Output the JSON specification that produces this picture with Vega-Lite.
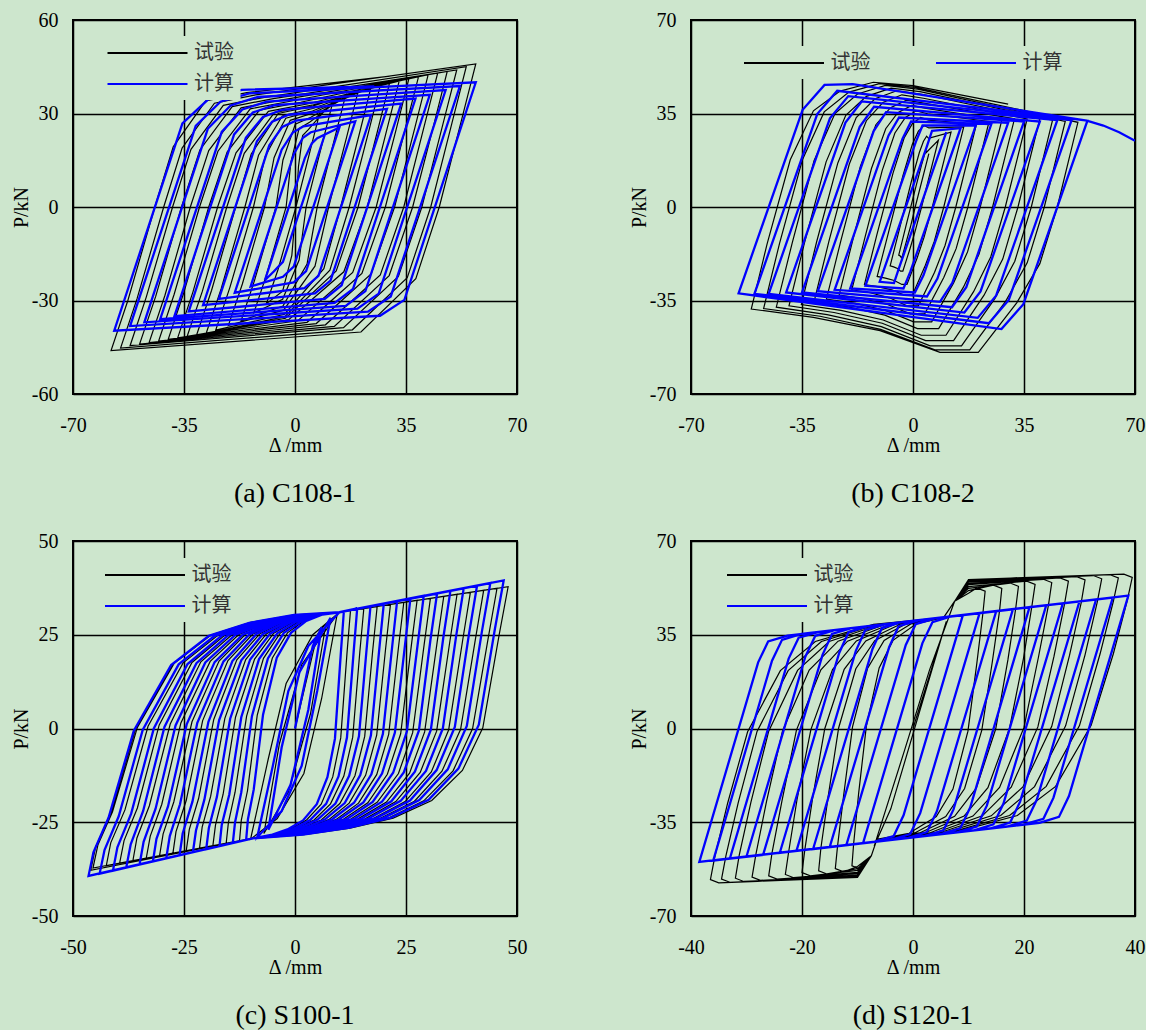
{
"$schema":"https://vega.github.io/schema/vega-lite/v6.json",
"background":"#cde6cd",
"padding":{"left":10,"top":9,"right":0,"bottom":0},
"config":{
"view":{"stroke":"black","strokeWidth":2},
"axis":{"domain":false,"ticks":false,"grid":true,"gridColor":"black","gridWidth":1.5,"gridOpacity":1,"labelFont":"Liberation Serif","labelFontSize":20,"labelColor":"black","titleFont":"Liberation Serif","titleFontSize":20,"titleFontWeight":"normal","titleColor":"black","labelFlush":false,"labelOverlap":false,"labelExpr":"'' + datum.value"},
"axisX":{"labelPadding":21,"titlePadding":0},
"axisY":{"labelPadding":15,"titlePadding":0},
"title":{"font":"Liberation Serif","fontSize":28,"fontWeight":"normal","color":"black","orient":"bottom","offset":25},
"legend":{"title":null,"symbolType":"M-4,0H4","symbolSize":400,"symbolStrokeWidth":2,"symbolOffset":29,"labelFont":"Noto Sans CJK SC","labelFontSize":20,"labelColor":"#333333","labelOffset":35.5,"rowPadding":10,"padding":6,"fillColor":"#cde6cd","orient":"none"}
},
"datasets":{
"a_t":[{"x":8,"y":31},{"x":4.9,"y":18.6},{"x":0.3,"y":0},{"x":-1,"y":-15.5},{"x":-3.9,"y":-27},{"x":-9,"y":-31},{"x":-5.4,"y":-20.2},{"x":0.3,"y":0},{"x":1.1,"y":13},{"x":2.4,"y":22.9},{"x":4.2,"y":24.8},
{"x":12,"y":34},{"x":8.6,"y":20.4},{"x":3.5,"y":0},{"x":1.3,"y":-17},{"x":-3.9,"y":-29.6},{"x":-13,"y":-34},{"x":-9.1,"y":-22.1},{"x":-2.8,"y":0},{"x":-1.3,"y":14.3},{"x":1.3,"y":25.2},{"x":4.6,"y":27.2},
{"x":16,"y":36},{"x":12.4,"y":21.6},{"x":7,"y":0},{"x":3.8,"y":-18.3},{"x":-3.8,"y":-31.8},{"x":-17,"y":-36.5},{"x":-12.8,"y":-23.7},{"x":-6,"y":0},{"x":-3.8,"y":15.1},{"x":0.1,"y":26.6},{"x":5,"y":28.8},
{"x":20,"y":37.5},{"x":16.3,"y":22.5},{"x":10.6,"y":0},{"x":6.3,"y":-19},{"x":-3.6,"y":-33.1},{"x":-21,"y":-38},{"x":-16.6,"y":-24.7},{"x":-9.6,"y":0},{"x":-6.6,"y":15.8},{"x":-1.5,"y":27.8},{"x":5.2,"y":30},
{"x":24,"y":38.5},{"x":20.2,"y":23.1},{"x":14.4,"y":0},{"x":9.1,"y":-19.8},{"x":-3.3,"y":-34.4},{"x":-25,"y":-39.5},{"x":-20.5,"y":-25.7},{"x":-13.1,"y":0},{"x":-9.4,"y":16.2},{"x":-2.9,"y":28.5},{"x":5.5,"y":30.8},
{"x":27,"y":39.5},{"x":23.1,"y":23.7},{"x":17.1,"y":0},{"x":11,"y":-20.3},{"x":-3.2,"y":-35.2},{"x":-28,"y":-40.5},{"x":-23.3,"y":-26.3},{"x":-15.8,"y":0},{"x":-11.5,"y":16.6},{"x":-4,"y":29.2},{"x":5.6,"y":31.6},
{"x":30,"y":40.5},{"x":26,"y":24.3},{"x":19.9,"y":0},{"x":13,"y":-20.5},{"x":-3,"y":-35.7},{"x":-31,"y":-41},{"x":-26.3,"y":-26.7},{"x":-18.7,"y":0},{"x":-13.8,"y":17},{"x":-5.3,"y":30},{"x":5.7,"y":32.4},
{"x":33,"y":41},{"x":28.9,"y":24.6},{"x":22.8,"y":0},{"x":15.4,"y":-20.8},{"x":-1.9,"y":-36.1},{"x":-34,"y":-41.5},{"x":-29.2,"y":-27},{"x":-21.5,"y":0},{"x":-16,"y":17.2},{"x":-6.5,"y":30.3},{"x":5.8,"y":32.8},
{"x":36,"y":41.5},{"x":31.9,"y":24.9},{"x":25.6,"y":0},{"x":18.2,"y":-21},{"x":0.9,"y":-36.5},{"x":-37,"y":-42},{"x":-32.2,"y":-27.3},{"x":-24.4,"y":0},{"x":-18.6,"y":17.4},{"x":-8.4,"y":30.7},{"x":4.6,"y":33.2},
{"x":39,"y":42},{"x":34.8,"y":25.2},{"x":28.5,"y":0},{"x":21.1,"y":-21.3},{"x":3.8,"y":-37},{"x":-40,"y":-42.5},{"x":-35.1,"y":-27.6},{"x":-27.2,"y":0},{"x":-21.4,"y":17.6},{"x":-11.2,"y":31.1},{"x":1.8,"y":33.6},
{"x":42,"y":42.5},{"x":37.8,"y":25.5},{"x":31.4,"y":0},{"x":24,"y":-21.5},{"x":6.7,"y":-37.4},{"x":-43,"y":-43},{"x":-38.1,"y":-28},{"x":-30.1,"y":0},{"x":-24.3,"y":17.9},{"x":-14.1,"y":31.5},{"x":-1.1,"y":34},
{"x":45,"y":43},{"x":40.7,"y":25.8},{"x":34.3,"y":0},{"x":26.9,"y":-21.8},{"x":9.6,"y":-37.8},{"x":-46,"y":-43.5},{"x":-41,"y":-28.3},{"x":-33,"y":0},{"x":-27.2,"y":18.1},{"x":-17,"y":31.8},{"x":-4,"y":34.4},
{"x":48,"y":43.5},{"x":43.7,"y":26.1},{"x":37.1,"y":0},{"x":29.7,"y":-22},{"x":12.4,"y":-38.3},{"x":-49,"y":-44},{"x":-43.9,"y":-28.6},{"x":-35.8,"y":0},{"x":-30,"y":18.3},{"x":-19.8,"y":32.2},{"x":-6.8,"y":34.8},
{"x":51,"y":44},{"x":46.6,"y":26.4},{"x":40,"y":0},{"x":32.6,"y":-22.3},{"x":15.3,"y":-38.7},{"x":-52,"y":-44.5},{"x":-46.9,"y":-28.9},{"x":-38.6,"y":0},{"x":-32.8,"y":18.5},{"x":-22.6,"y":32.6},{"x":-9.6,"y":35.2},
{"x":54,"y":45},{"x":49.5,"y":27},{"x":42.8,"y":0},{"x":35.4,"y":-22.7},{"x":18.1,"y":-39.4},{"x":-55,"y":-45.3},{"x":-49.8,"y":-29.4},{"x":-41.4,"y":0},{"x":-35.6,"y":18.9},{"x":-25.4,"y":33.3},{"x":-12.4,"y":36},
{"x":57,"y":45.9},{"x":52.4,"y":27.5},{"x":45.5,"y":0},{"x":38.1,"y":-23},{"x":20.8,"y":-40.1},{"x":-58,"y":-46.1},{"x":-52.7,"y":-30},{"x":-44.2,"y":0},{"x":-38.4,"y":19.3},{"x":-28.2,"y":34},{"x":-15.2,"y":36.7},{"x":30,"y":42}],
"a_c":[{"x":9.5,"y":23.5},{"x":-3.8,"y":-17.6},{"x":-6.7,"y":-20.7},{"x":-9.5,"y":-23.5},{"x":3.1,"y":15.7},{"x":5.3,"y":20.4},{"x":7,"y":22.1},
{"x":14,"y":25.5},{"x":-0.4,"y":-19.1},{"x":-3.8,"y":-22.4},{"x":-14,"y":-25.5},{"x":-0.3,"y":17.1},{"x":2.5,"y":22.2},{"x":5,"y":24},
{"x":19,"y":27.5},{"x":3.5,"y":-20.6},{"x":-0.4,"y":-24.2},{"x":-19,"y":-27.5},{"x":-4.2,"y":18.4},{"x":-0.7,"y":23.9},{"x":2.7,"y":25.9},
{"x":24,"y":29.5},{"x":7.4,"y":-22.1},{"x":3,"y":-26},{"x":-24,"y":-29.5},{"x":-8.1,"y":19.8},{"x":-4,"y":25.7},{"x":0.3,"y":27.7},
{"x":29,"y":31.5},{"x":11.2,"y":-23.6},{"x":6.3,"y":-27.7},{"x":-29,"y":-31.5},{"x":-12,"y":21.1},{"x":-7.2,"y":27.4},{"x":-2,"y":29.6},
{"x":33.5,"y":33.2},{"x":14.7,"y":-25.1},{"x":9.4,"y":-29.5},{"x":-33.5,"y":-33.5},{"x":-15.5,"y":22.2},{"x":-10.1,"y":28.9},{"x":-4.1,"y":31.2},
{"x":38,"y":34.8},{"x":18.3,"y":-26.3},{"x":12.5,"y":-30.8},{"x":-38,"y":-35},{"x":-19.2,"y":23.3},{"x":-13.3,"y":30.3},{"x":-6.5,"y":32.7},
{"x":42.5,"y":36},{"x":22.2,"y":-27},{"x":16,"y":-31.7},{"x":-42.5,"y":-36},{"x":-23.1,"y":24.1},{"x":-16.6,"y":31.3},{"x":-8.9,"y":33.8},
{"x":47.5,"y":37.5},{"x":26.4,"y":-27.8},{"x":19.7,"y":-32.6},{"x":-47.5,"y":-37},{"x":-27.5,"y":25.1},{"x":-20.3,"y":32.6},{"x":-11.7,"y":35.3},
{"x":52,"y":38.8},{"x":30.2,"y":-28.7},{"x":23,"y":-33.6},{"x":-52,"y":-38.2},{"x":-31.3,"y":26},{"x":-23.5,"y":33.8},{"x":-14.1,"y":36.5},
{"x":57,"y":40},{"x":34.5,"y":-29.8},{"x":26.8,"y":-34.9},{"x":-57,"y":-39.7},{"x":-35.5,"y":26.8},{"x":-27.1,"y":34.8},{"x":-16.8,"y":37.6},{"x":25,"y":38.7}],
"b_t":[{"x":5,"y":20},{"x":0.7,"y":0},{"x":-0.8,"y":-7.4},{"x":-2,"y":-12.5},{"x":-3.5,"y":-19},{"x":-3.7,"y":-19},{"x":-3.9,"y":-18.5},{"x":-4.2,"y":-18.2},{"x":-4.5,"y":-18},{"x":-2.1,"y":-6.5},{"x":1,"y":8},{"x":2.8,"y":16.2},{"x":3.6,"y":19.5},{"x":4.1,"y":21},{"x":4.2,"y":20.4},
{"x":8,"y":25},{"x":2.7,"y":0},{"x":0.6,"y":-9.4},{"x":-1,"y":-15.8},{"x":-3.2,"y":-24},{"x":-3.9,"y":-24},{"x":-4.9,"y":-23},{"x":-6.1,"y":-22.4},{"x":-7.2,"y":-22},{"x":-4.2,"y":-7.9},{"x":-0.4,"y":10.1},{"x":2,"y":20.4},{"x":3.3,"y":24.6},{"x":4.3,"y":26.5},{"x":4.9,"y":25.7},
{"x":12,"y":28},{"x":6.1,"y":0},{"x":3.5,"y":-11.3},{"x":1.3,"y":-19.1},{"x":-1.9,"y":-29},{"x":-3.5,"y":-29},{"x":-5.9,"y":-27.5},{"x":-8.7,"y":-26.6},{"x":-11.3,"y":-26},{"x":-7.7,"y":-9.4},{"x":-3.2,"y":11.6},{"x":-0.2,"y":23.5},{"x":1.7,"y":28.4},{"x":3.5,"y":30.5},{"x":5,"y":29.6},
{"x":16,"y":30},{"x":9.7,"y":0},{"x":6.7,"y":-12.9},{"x":3.9,"y":-21.8},{"x":-0.2,"y":-33},{"x":-2.8,"y":-33},{"x":-6.7,"y":-31},{"x":-11.2,"y":-29.8},{"x":-15.3,"y":-29},{"x":-11.4,"y":-10.4},{"x":-6.3,"y":12.7},{"x":-2.8,"y":25.8},{"x":-0.2,"y":31.2},{"x":2.4,"y":33.5},{"x":4.9,"y":32.5},
{"x":20,"y":31},{"x":13.5,"y":0},{"x":10.1,"y":-14.4},{"x":6.8,"y":-24.4},{"x":1.7,"y":-37},{"x":-1.9,"y":-37},{"x":-7.4,"y":-34},{"x":-13.5,"y":-32.1},{"x":-19.3,"y":-31},{"x":-15.1,"y":-11.2},{"x":-9.7,"y":13.7},{"x":-5.7,"y":27.7},{"x":-2.4,"y":33.5},{"x":1,"y":36},{"x":4.6,"y":34.9},
{"x":24,"y":32},{"x":17.3,"y":0},{"x":13.6,"y":-15.6},{"x":9.7,"y":-26.4},{"x":3.7,"y":-40},{"x":-0.9,"y":-40},{"x":-8,"y":-36.5},{"x":-15.9,"y":-34.3},{"x":-23.3,"y":-33},{"x":-18.9,"y":-11.9},{"x":-13.1,"y":14.4},{"x":-8.6,"y":29.3},{"x":-4.8,"y":35.3},{"x":-0.4,"y":38},{"x":4.2,"y":36.9},
{"x":28,"y":32.5},{"x":21.2,"y":0},{"x":17.2,"y":-16.8},{"x":12.8,"y":-28.4},{"x":5.9,"y":-43},{"x":0.2,"y":-43},{"x":-8.5,"y":-38.8},{"x":-18.2,"y":-36.1},{"x":-27.3,"y":-34.5},{"x":-22.7,"y":-12.4},{"x":-16.6,"y":15.2},{"x":-11.7,"y":30.8},{"x":-7.1,"y":37.2},{"x":-2,"y":40},{"x":3.8,"y":38.8},
{"x":32,"y":33},{"x":25.1,"y":0},{"x":20.8,"y":-17.7},{"x":15.9,"y":-30},{"x":8.1,"y":-45.5},{"x":1.4,"y":-45.5},{"x":-8.9,"y":-40.5},{"x":-20.5,"y":-37.4},{"x":-31.2,"y":-35.5},{"x":-26.5,"y":-12.8},{"x":-20.1,"y":16},{"x":-14.7,"y":32.3},{"x":-9.5,"y":39.1},{"x":-3.5,"y":42},{"x":3.3,"y":40.7},
{"x":36,"y":33},{"x":29.1,"y":0},{"x":24.5,"y":-18.7},{"x":19.1,"y":-31.7},{"x":10.4,"y":-48},{"x":2.6,"y":-48},{"x":-9.4,"y":-42.3},{"x":-22.7,"y":-38.7},{"x":-35.2,"y":-36.5},{"x":-30.4,"y":-13.1},{"x":-23.7,"y":16.5},{"x":-17.9,"y":33.5},{"x":-12,"y":40.5},{"x":-5.1,"y":43.5},{"x":2.8,"y":42.2},
{"x":40,"y":33},{"x":33.1,"y":0},{"x":28.3,"y":-19.5},{"x":22.4,"y":-33},{"x":12.8,"y":-50},{"x":4,"y":-50},{"x":-9.7,"y":-43.5},{"x":-24.9,"y":-39.5},{"x":-39.1,"y":-37},{"x":-34.2,"y":-13.3},{"x":-27.4,"y":16.9},{"x":-21.2,"y":34.3},{"x":-14.7,"y":41.4},{"x":-6.9,"y":44.5},{"x":2.2,"y":43.2},
{"x":44,"y":32.5},{"x":37.3,"y":0},{"x":32.1,"y":-20.3},{"x":25.8,"y":-34.3},{"x":15.3,"y":-52},{"x":5.4,"y":-52},{"x":-10,"y":-44.8},{"x":-27.1,"y":-40.3},{"x":-43.1,"y":-37.5},{"x":-38.1,"y":-13.5},{"x":-31.2,"y":17.3},{"x":-24.6,"y":35},{"x":-17.5,"y":42.3},{"x":-8.7,"y":45.5},{"x":1.5,"y":44.1},
{"x":48,"y":32},{"x":41.4,"y":0},{"x":36,"y":-20.9},{"x":29.2,"y":-35.3},{"x":17.9,"y":-53.5},{"x":6.9,"y":-53.5},{"x":-10.2,"y":-45.8},{"x":-29.3,"y":-40.9},{"x":-47.1,"y":-38},{"x":-42.1,"y":-13.7},{"x":-34.9,"y":17.6},{"x":-28,"y":35.6},{"x":-20.2,"y":43},{"x":-10.6,"y":46.2},{"x":0.8,"y":44.8},
{"x":52,"y":31.7},{"x":45.5,"y":0},{"x":40,"y":-21.2},{"x":32.7,"y":-35.9},{"x":20.6,"y":-54.4},{"x":8.5,"y":-54.4},{"x":-10.4,"y":-46.3},{"x":-31.4,"y":-41.3},{"x":-51,"y":-38.2},{"x":-46,"y":-13.8},{"x":-38.7,"y":17.7},{"x":-31.4,"y":36},{"x":-23,"y":43.4},{"x":-12.5,"y":46.7},{"x":0,"y":45.4},{"x":30,"y":38.5}],
"b_c":[{"x":10.5,"y":28},{"x":-4.4,"y":-22.8},{"x":-6,"y":-28.5},{"x":-10.5,"y":-28},{"x":4.4,"y":22.8},{"x":6,"y":28.5},
{"x":15,"y":29.5},{"x":-0.9,"y":-24.4},{"x":-3,"y":-30.5},{"x":-15,"y":-29.5},{"x":0.9,"y":24.4},{"x":3,"y":30.5},
{"x":19.8,"y":30.5},{"x":3.3,"y":-25.6},{"x":0.6,"y":-32},{"x":-19.8,"y":-30.5},{"x":-3.3,"y":25.6},{"x":-0.6,"y":32},
{"x":24.7,"y":31},{"x":7.7,"y":-26.8},{"x":4.4,"y":-33.5},{"x":-24.7,"y":-31},{"x":-7.7,"y":26.8},{"x":-4.4,"y":33.5},
{"x":30,"y":31.5},{"x":12.4,"y":-28.4},{"x":8.5,"y":-35.5},{"x":-30,"y":-31.5},{"x":-12.4,"y":28.4},{"x":-8.5,"y":35.5},
{"x":35,"y":32},{"x":16.8,"y":-30},{"x":12.3,"y":-37.5},{"x":-35,"y":-32},{"x":-16.8,"y":30},{"x":-12.3,"y":37.5},
{"x":40,"y":32},{"x":21.3,"y":-31.6},{"x":16.2,"y":-39.5},{"x":-40,"y":-32},{"x":-21.3,"y":31.6},{"x":-16.2,"y":39.5},
{"x":45.5,"y":32.5},{"x":26.2,"y":-33.2},{"x":20.4,"y":-41.5},{"x":-45.5,"y":-32.5},{"x":-26.2,"y":33.2},{"x":-20.4,"y":41.5},
{"x":50,"y":32.5},{"x":30.2,"y":-34.8},{"x":23.9,"y":-43.5},{"x":-50,"y":-32.5},{"x":-30.2,"y":34.8},{"x":-23.9,"y":43.5},
{"x":55,"y":32.3},{"x":34.8,"y":-36.4},{"x":27.9,"y":-45.7},{"x":-55,"y":-32.3},{"x":-34.8,"y":36.4},{"x":-27.9,"y":45.7},{"x":-19,"y":46},{"x":54.8,"y":32.3},{"x":60,"y":30.5},{"x":65,"y":28},{"x":70,"y":24.8}],
"c_t":[{"x":0,"y":0},{"x":5,"y":25},{"x":7,"y":28},{"x":3.5,"y":4},{"x":-1.5,"y":-17},{"x":-7,"y":-28},{"x":-3.5,"y":-4},{"x":1.5,"y":17},{"x":9.5,"y":30.5},{"x":6,"y":8},{"x":2,"y":-12},{"x":-4,"y":-24},{"x":-10,"y":-29.5},{"x":-6,"y":-8},{"x":-2,"y":12},{"x":4,"y":25},{"x":10,"y":31},
{"x":12.5,"y":31.5},{"x":11.7,"y":19.9},{"x":10.3,"y":-2.5},{"x":8.5,"y":-12.9},{"x":5.9,"y":-20.2},{"x":2.6,"y":-24.4},{"x":-1.1,"y":-26.9},{"x":-5.1,"y":-28.4},{"x":-9.5,"y":-29.3},{"x":-12.5,"y":-30},{"x":-12.1,"y":-24.5},{"x":-10.7,"y":-16.6},{"x":-8.5,"y":3.6},{"x":-5.1,"y":18.8},{"x":-1.7,"y":25.5},{"x":1.9,"y":28.6},{"x":6,"y":30.4},{"x":10,"y":31},
{"x":15.5,"y":32},{"x":14.6,"y":20.4},{"x":13,"y":-2.3},{"x":11,"y":-12.7},{"x":8,"y":-20.1},{"x":4.3,"y":-24.4},{"x":0,"y":-26.8},{"x":-4.5,"y":-28.4},{"x":-9.5,"y":-29.3},{"x":-15.5,"y":-30.6},{"x":-15,"y":-25.1},{"x":-13.5,"y":-17},{"x":-10.9,"y":3.3},{"x":-7.1,"y":18.7},{"x":-3.3,"y":25.5},{"x":0.8,"y":28.5},{"x":5.4,"y":30.4},{"x":10,"y":31},
{"x":18.5,"y":32.5},{"x":17.5,"y":20.8},{"x":15.7,"y":-2.1},{"x":13.5,"y":-12.6},{"x":10.1,"y":-20},{"x":5.9,"y":-24.4},{"x":1.1,"y":-26.8},{"x":-3.9,"y":-28.4},{"x":-9.5,"y":-29.3},{"x":-18.5,"y":-31.3},{"x":-17.9,"y":-25.7},{"x":-16.2,"y":-17.6},{"x":-13.4,"y":3},{"x":-9.1,"y":18.5},{"x":-4.8,"y":25.4},{"x":-0.3,"y":28.5},{"x":4.9,"y":30.4},{"x":10,"y":31},
{"x":21.5,"y":33.1},{"x":20.4,"y":21.2},{"x":18.4,"y":-1.8},{"x":15.9,"y":-12.5},{"x":12.2,"y":-19.9},{"x":7.6,"y":-24.3},{"x":2.3,"y":-26.8},{"x":-3.3,"y":-28.4},{"x":-9.5,"y":-29.3},{"x":-21.5,"y":-31.9},{"x":-20.9,"y":-26.2},{"x":-19,"y":-18.1},{"x":-15.8,"y":2.7},{"x":-11.1,"y":18.4},{"x":-6.4,"y":25.3},{"x":-1.3,"y":28.5},{"x":4.3,"y":30.4},{"x":10,"y":31},
{"x":24.5,"y":33.6},{"x":23.3,"y":21.6},{"x":21.1,"y":-1.6},{"x":18.4,"y":-12.3},{"x":14.3,"y":-19.9},{"x":9.2,"y":-24.3},{"x":3.4,"y":-26.8},{"x":-2.7,"y":-28.4},{"x":-9.5,"y":-29.3},{"x":-24.5,"y":-32.6},{"x":-23.8,"y":-26.9},{"x":-21.7,"y":-18.6},{"x":-18.3,"y":2.4},{"x":-13.1,"y":18.3},{"x":-7.9,"y":25.3},{"x":-2.4,"y":28.5},{"x":3.8,"y":30.4},{"x":10,"y":31},
{"x":27.5,"y":34.2},{"x":26.2,"y":22.1},{"x":23.8,"y":-1.4},{"x":20.8,"y":-12.2},{"x":16.4,"y":-19.8},{"x":10.9,"y":-24.2},{"x":4.6,"y":-26.8},{"x":-2.1,"y":-28.3},{"x":-9.5,"y":-29.3},{"x":-27.5,"y":-33.3},{"x":-26.8,"y":-27.5},{"x":-24.5,"y":-19.2},{"x":-20.8,"y":2.1},{"x":-15.1,"y":18.1},{"x":-9.5,"y":25.2},{"x":-3.5,"y":28.4},{"x":3.3,"y":30.4},{"x":10,"y":31},
{"x":30.5,"y":34.7},{"x":29.1,"y":22.5},{"x":26.5,"y":-1.1},{"x":23.3,"y":-12},{"x":18.5,"y":-19.7},{"x":12.5,"y":-24.2},{"x":5.7,"y":-26.7},{"x":-1.5,"y":-28.3},{"x":-9.5,"y":-29.3},{"x":-30.5,"y":-33.9},{"x":-29.7,"y":-28.1},{"x":-27.3,"y":-19.6},{"x":-23.2,"y":1.8},{"x":-17.1,"y":18},{"x":-11.1,"y":25.2},{"x":-4.6,"y":28.4},{"x":2.7,"y":30.4},{"x":10,"y":31},
{"x":33.5,"y":35.2},{"x":32,"y":22.9},{"x":29.2,"y":-0.9},{"x":25.8,"y":-11.9},{"x":20.6,"y":-19.6},{"x":14.2,"y":-24.1},{"x":6.8,"y":-26.7},{"x":-0.9,"y":-28.3},{"x":-9.5,"y":-29.3},{"x":-33.5,"y":-34.6},{"x":-32.6,"y":-28.7},{"x":-30,"y":-20.2},{"x":-25.7,"y":1.5},{"x":-19.1,"y":17.9},{"x":-12.6,"y":25.1},{"x":-5.7,"y":28.4},{"x":2.2,"y":30.3},{"x":10,"y":31},
{"x":36.5,"y":35.8},{"x":34.9,"y":23.4},{"x":31.9,"y":-0.7},{"x":28.2,"y":-11.7},{"x":22.7,"y":-19.5},{"x":15.8,"y":-24.1},{"x":8,"y":-26.7},{"x":-0.3,"y":-28.3},{"x":-9.5,"y":-29.3},{"x":-36.5,"y":-35.2},{"x":-35.6,"y":-29.2},{"x":-32.8,"y":-20.6},{"x":-28.1,"y":1.2},{"x":-21.2,"y":17.8},{"x":-14.2,"y":25},{"x":-6.7,"y":28.4},{"x":1.6,"y":30.3},{"x":10,"y":31},
{"x":39.5,"y":36.3},{"x":37.8,"y":23.8},{"x":34.6,"y":-0.4},{"x":30.7,"y":-11.6},{"x":24.8,"y":-19.5},{"x":17.5,"y":-24.1},{"x":9.1,"y":-26.7},{"x":0.3,"y":-28.3},{"x":-9.5,"y":-29.3},{"x":-39.5,"y":-35.9},{"x":-38.5,"y":-29.9},{"x":-35.5,"y":-21.2},{"x":-30.6,"y":0.9},{"x":-23.2,"y":17.6},{"x":-15.7,"y":25},{"x":-7.8,"y":28.3},{"x":1.1,"y":30.3},{"x":10,"y":31},
{"x":42.5,"y":36.9},{"x":40.7,"y":24.3},{"x":37.3,"y":-0.2},{"x":33.1,"y":-11.4},{"x":26.9,"y":-19.4},{"x":19.1,"y":-24},{"x":10.3,"y":-26.7},{"x":0.9,"y":-28.3},{"x":-9.5,"y":-29.3},{"x":-42.5,"y":-36.6},{"x":-41.5,"y":-30.5},{"x":-38.3,"y":-21.7},{"x":-33.1,"y":0.6},{"x":-25.2,"y":17.5},{"x":-17.3,"y":24.9},{"x":-8.9,"y":28.3},{"x":0.6,"y":30.3},{"x":10,"y":31},
{"x":45.5,"y":37.4},{"x":43.6,"y":24.7},{"x":40,"y":0},{"x":35.6,"y":-11.3},{"x":29,"y":-19.3},{"x":20.8,"y":-24},{"x":11.4,"y":-26.6},{"x":1.5,"y":-28.3},{"x":-9.5,"y":-29.3},{"x":-45.5,"y":-37.2},{"x":-44.4,"y":-31.1},{"x":-41.1,"y":-22.2},{"x":-35.5,"y":0.3},{"x":-27.2,"y":17.4},{"x":-18.9,"y":24.9},{"x":-10,"y":28.3},{"x":0,"y":30.3},{"x":10,"y":31},
{"x":48,"y":37.8},{"x":46,"y":25.1},{"x":42.3,"y":0.2},{"x":37.7,"y":-11.2},{"x":30.8,"y":-19.2},{"x":22.1,"y":-23.9},{"x":12.4,"y":-26.6},{"x":2,"y":-28.3},{"x":-9.5,"y":-29.3},{"x":-46,"y":-37.8},{"x":-44.9,"y":-31.6},{"x":-41.5,"y":-22.7},{"x":-35.9,"y":0},{"x":-27.5,"y":17.2},{"x":-19.1,"y":24.8},{"x":-10.2,"y":28.2},{"x":-0.1,"y":30.3},{"x":10,"y":31}],
"c_c":[{"x":0,"y":0},{"x":4,"y":22},{"x":6,"y":27},{"x":3,"y":5},{"x":-1,"y":-15},{"x":-6,"y":-27},{"x":-3,"y":-5},{"x":1,"y":15},{"x":8,"y":29.5},{"x":5,"y":10},{"x":1.5,"y":-10},{"x":-3,"y":-22},{"x":-8.5,"y":-29},{"x":-5,"y":-10},{"x":-1.5,"y":10},{"x":3,"y":22},{"x":10,"y":31},
{"x":11,"y":31.2},{"x":10.3,"y":19.7},{"x":9,"y":-2.7},{"x":7.3,"y":-13},{"x":4.9,"y":-20.2},{"x":1.8,"y":-24.5},{"x":-1.7,"y":-26.9},{"x":-5.4,"y":-28.4},{"x":-9.5,"y":-29.3},{"x":-11,"y":-29.7},{"x":-10.6,"y":-24.2},{"x":-9.3,"y":-16.3},{"x":-7.2,"y":3.7},{"x":-4.1,"y":18.9},{"x":-0.9,"y":25.5},{"x":2.4,"y":28.6},{"x":6.2,"y":30.4},{"x":10,"y":31},
{"x":14,"y":31.9},{"x":13.2,"y":20.3},{"x":11.7,"y":-2.4},{"x":9.8,"y":-12.8},{"x":7,"y":-20.1},{"x":3.4,"y":-24.4},{"x":-0.6,"y":-26.9},{"x":-4.8,"y":-28.4},{"x":-9.5,"y":-29.3},{"x":-14,"y":-30.5},{"x":-13.5,"y":-25},{"x":-12.1,"y":-17},{"x":-9.7,"y":3.3},{"x":-6.1,"y":18.7},{"x":-2.5,"y":25.5},{"x":1.4,"y":28.5},{"x":5.7,"y":30.4},{"x":10,"y":31},
{"x":17,"y":32.6},{"x":16.1,"y":20.8},{"x":14.4,"y":-2.1},{"x":12.2,"y":-12.6},{"x":9.1,"y":-20},{"x":5.1,"y":-24.3},{"x":0.6,"y":-26.8},{"x":-4.2,"y":-28.4},{"x":-9.5,"y":-29.3},{"x":-17,"y":-31.3},{"x":-16.5,"y":-25.7},{"x":-14.8,"y":-17.6},{"x":-12.1,"y":3},{"x":-8.1,"y":18.5},{"x":-4,"y":25.4},{"x":0.3,"y":28.5},{"x":5.1,"y":30.4},{"x":10,"y":31},
{"x":20,"y":33.3},{"x":19,"y":21.4},{"x":17.1,"y":-1.8},{"x":14.7,"y":-12.4},{"x":11.2,"y":-19.9},{"x":6.7,"y":-24.3},{"x":1.7,"y":-26.8},{"x":-3.6,"y":-28.4},{"x":-9.5,"y":-29.3},{"x":-20,"y":-32.2},{"x":-19.4,"y":-26.5},{"x":-17.6,"y":-18.3},{"x":-14.6,"y":2.6},{"x":-10.1,"y":18.4},{"x":-5.6,"y":25.3},{"x":-0.8,"y":28.5},{"x":4.6,"y":30.4},{"x":10,"y":31},
{"x":23,"y":34},{"x":21.9,"y":22},{"x":19.8,"y":-1.4},{"x":17.2,"y":-12.2},{"x":13.3,"y":-19.8},{"x":8.4,"y":-24.2},{"x":2.9,"y":-26.8},{"x":-3,"y":-28.4},{"x":-9.5,"y":-29.3},{"x":-23,"y":-33},{"x":-22.3,"y":-27.2},{"x":-20.4,"y":-18.9},{"x":-17.1,"y":2.2},{"x":-12.1,"y":18.2},{"x":-7.2,"y":25.2},{"x":-1.9,"y":28.4},{"x":4.1,"y":30.4},{"x":10,"y":31},
{"x":26,"y":34.7},{"x":24.8,"y":22.5},{"x":22.5,"y":-1.1},{"x":19.6,"y":-12},{"x":15.4,"y":-19.7},{"x":10,"y":-24.2},{"x":4,"y":-26.7},{"x":-2.4,"y":-28.3},{"x":-9.5,"y":-29.3},{"x":-26,"y":-33.8},{"x":-25.3,"y":-28},{"x":-23.1,"y":-19.5},{"x":-19.5,"y":1.8},{"x":-14.1,"y":18},{"x":-8.7,"y":25.2},{"x":-3,"y":28.4},{"x":3.5,"y":30.4},{"x":10,"y":31},
{"x":29,"y":35.4},{"x":27.7,"y":23.1},{"x":25.2,"y":-0.8},{"x":22.1,"y":-11.8},{"x":17.5,"y":-19.6},{"x":11.7,"y":-24.1},{"x":5.1,"y":-26.7},{"x":-1.8,"y":-28.3},{"x":-9.5,"y":-29.3},{"x":-29,"y":-34.6},{"x":-28.2,"y":-28.7},{"x":-25.9,"y":-20.2},{"x":-22,"y":1.5},{"x":-16.1,"y":17.9},{"x":-10.3,"y":25.1},{"x":-4,"y":28.4},{"x":3,"y":30.3},{"x":10,"y":31},
{"x":32,"y":36},{"x":30.5,"y":23.6},{"x":27.9,"y":-0.6},{"x":24.5,"y":-11.7},{"x":19.6,"y":-19.5},{"x":13.3,"y":-24.1},{"x":6.3,"y":-26.7},{"x":-1.2,"y":-28.3},{"x":-9.5,"y":-29.3},{"x":-32,"y":-35.4},{"x":-31.2,"y":-29.4},{"x":-28.6,"y":-20.8},{"x":-24.4,"y":1.1},{"x":-18.1,"y":17.7},{"x":-11.8,"y":25},{"x":-5.1,"y":28.3},{"x":2.4,"y":30.3},{"x":10,"y":31},
{"x":35,"y":36.7},{"x":33.4,"y":24.2},{"x":30.6,"y":-0.3},{"x":27,"y":-11.5},{"x":21.7,"y":-19.4},{"x":15,"y":-24},{"x":7.4,"y":-26.7},{"x":-0.6,"y":-28.3},{"x":-9.5,"y":-29.3},{"x":-35,"y":-36.2},{"x":-34.1,"y":-30.2},{"x":-31.4,"y":-21.4},{"x":-26.9,"y":0.8},{"x":-20.2,"y":17.6},{"x":-13.4,"y":25},{"x":-6.2,"y":28.3},{"x":1.9,"y":30.3},{"x":10,"y":31},
{"x":38,"y":37.4},{"x":36.3,"y":24.7},{"x":33.3,"y":0},{"x":29.5,"y":-11.3},{"x":23.8,"y":-19.3},{"x":16.6,"y":-24},{"x":8.6,"y":-26.6},{"x":0,"y":-28.3},{"x":-9.5,"y":-29.3},{"x":-38,"y":-37},{"x":-37,"y":-30.9},{"x":-34.2,"y":-22},{"x":-29.4,"y":0.4},{"x":-22.2,"y":17.4},{"x":-15,"y":24.9},{"x":-7.3,"y":28.3},{"x":1.4,"y":30.3},{"x":10,"y":31},
{"x":41,"y":38.1},{"x":39.2,"y":25.3},{"x":36,"y":0.4},{"x":31.9,"y":-11.1},{"x":25.9,"y":-19.2},{"x":18.3,"y":-23.9},{"x":9.7,"y":-26.6},{"x":0.6,"y":-28.3},{"x":-9.5,"y":-29.3},{"x":-41,"y":-37.9},{"x":-40,"y":-31.7},{"x":-36.9,"y":-22.7},{"x":-31.8,"y":0},{"x":-24.2,"y":17.2},{"x":-16.5,"y":24.8},{"x":-8.4,"y":28.2},{"x":0.8,"y":30.3},{"x":10,"y":31},
{"x":44,"y":38.8},{"x":42.1,"y":25.9},{"x":38.7,"y":0.7},{"x":34.4,"y":-10.9},{"x":28,"y":-19.1},{"x":19.9,"y":-23.9},{"x":10.8,"y":-26.6},{"x":1.2,"y":-28.3},{"x":-9.5,"y":-29.3},{"x":-44,"y":-38.7},{"x":-42.9,"y":-32.4},{"x":-39.7,"y":-23.4},{"x":-34.3,"y":-0.4},{"x":-26.2,"y":17.1},{"x":-18.1,"y":24.7},{"x":-9.4,"y":28.2},{"x":0.3,"y":30.3},{"x":10,"y":31},
{"x":47,"y":39.5},{"x":45,"y":26.4},{"x":41.4,"y":1},{"x":36.8,"y":-10.7},{"x":30.1,"y":-19},{"x":21.6,"y":-23.8},{"x":12,"y":-26.5},{"x":1.8,"y":-28.3},{"x":-9.5,"y":-29.3},{"x":-46.5,"y":-39.3},{"x":-45.4,"y":-33},{"x":-42,"y":-23.8},{"x":-36.3,"y":-0.6},{"x":-27.9,"y":16.9},{"x":-19.4,"y":24.7},{"x":-10.3,"y":28.2},{"x":-0.2,"y":30.3},{"x":10,"y":31},{"x":14,"y":32}],
"d_t":[{"x":0,"y":0},{"x":6,"y":40},{"x":1,"y":5},{"x":-4,"y":-30},{"x":-7,"y":-44},{"x":-1.5,"y":-8},{"x":3,"y":22},{"x":7.5,"y":47.5},{"x":10,"y":50.5},
{"x":11.5,"y":52.5},{"x":13,"y":51.3},{"x":12.6,"y":43.1},{"x":11.5,"y":24.3},{"x":9.9,"y":-1},{"x":7.2,"y":-22.6},{"x":4.2,"y":-32.9},{"x":-0.7,"y":-39.1},{"x":-6.5,"y":-41.4},{"x":-7.5,"y":-47.5},{"x":-9.5,"y":-52.5},{"x":-11,"y":-51.3},{"x":-10.7,"y":-43.1},{"x":-9.8,"y":-24.3},{"x":-8.4,"y":1},{"x":-6.1,"y":22.6},{"x":-3.6,"y":32.9},{"x":0.6,"y":39.1},{"x":5.5,"y":41.4},{"x":7.5,"y":47.5},{"x":10,"y":51.5},
{"x":14.5,"y":53.5},{"x":16,"y":52.3},{"x":15.6,"y":44},{"x":14.3,"y":25},{"x":12.4,"y":-0.6},{"x":9.3,"y":-22.4},{"x":5.9,"y":-32.9},{"x":0.3,"y":-39},{"x":-6.5,"y":-41.4},{"x":-7.5,"y":-47.5},{"x":-10,"y":-51.5},{"x":-12.5,"y":-53.5},{"x":-14,"y":-52.3},{"x":-13.6,"y":-44},{"x":-12.5,"y":-25},{"x":-10.9,"y":0.6},{"x":-8.2,"y":22.4},{"x":-5.2,"y":32.9},{"x":-0.4,"y":39},{"x":5.5,"y":41.4},{"x":7.5,"y":47.5},{"x":10,"y":52.3},
{"x":17.5,"y":54.3},{"x":19,"y":53.1},{"x":18.5,"y":44.7},{"x":17.1,"y":25.6},{"x":14.9,"y":-0.2},{"x":11.4,"y":-22.3},{"x":7.5,"y":-32.8},{"x":1.2,"y":-39},{"x":-6.5,"y":-41.4},{"x":-7.5,"y":-47.5},{"x":-10,"y":-52.3},{"x":-15.5,"y":-54.3},{"x":-17,"y":-53.1},{"x":-16.6,"y":-44.7},{"x":-15.3,"y":-25.6},{"x":-13.4,"y":0.2},{"x":-10.3,"y":22.3},{"x":-6.9,"y":32.8},{"x":-1.3,"y":39},{"x":5.5,"y":41.4},{"x":7.5,"y":47.5},{"x":10,"y":53},
{"x":20.5,"y":55},{"x":22,"y":53.8},{"x":21.4,"y":45.4},{"x":19.9,"y":26.1},{"x":17.4,"y":0.1},{"x":13.5,"y":-22.1},{"x":9.2,"y":-32.7},{"x":2.1,"y":-39},{"x":-6.5,"y":-41.4},{"x":-7.5,"y":-47.5},{"x":-10,"y":-53},{"x":-18.5,"y":-55},{"x":-20,"y":-53.8},{"x":-19.5,"y":-45.4},{"x":-18.1,"y":-26.1},{"x":-15.9,"y":-0.1},{"x":-12.4,"y":22.1},{"x":-8.5,"y":32.7},{"x":-2.2,"y":39},{"x":5.5,"y":41.4},{"x":7.5,"y":47.5},{"x":10,"y":53.7},
{"x":23.5,"y":55.7},{"x":25,"y":54.5},{"x":24.4,"y":46},{"x":22.6,"y":26.6},{"x":20,"y":0.4},{"x":15.6,"y":-22},{"x":10.8,"y":-32.7},{"x":3,"y":-39},{"x":-6.5,"y":-41.4},{"x":-7.5,"y":-47.5},{"x":-10,"y":-53.7},{"x":-21.5,"y":-55.7},{"x":-23,"y":-54.5},{"x":-22.4,"y":-46},{"x":-20.9,"y":-26.6},{"x":-18.4,"y":-0.4},{"x":-14.5,"y":22},{"x":-10.2,"y":32.7},{"x":-3.1,"y":39},{"x":5.5,"y":41.4},{"x":7.5,"y":47.5},{"x":10,"y":54.2},
{"x":26.5,"y":56.2},{"x":28,"y":55},{"x":27.3,"y":46.4},{"x":25.4,"y":26.9},{"x":22.5,"y":0.6},{"x":17.7,"y":-21.9},{"x":12.5,"y":-32.6},{"x":3.9,"y":-39},{"x":-6.5,"y":-41.4},{"x":-7.5,"y":-47.5},{"x":-10,"y":-54.2},{"x":-24.5,"y":-56.2},{"x":-26,"y":-55},{"x":-25.4,"y":-46.4},{"x":-23.6,"y":-26.9},{"x":-21,"y":-0.6},{"x":-16.6,"y":21.9},{"x":-11.8,"y":32.6},{"x":-4,"y":39},{"x":5.5,"y":41.4},{"x":7.5,"y":47.5},{"x":10,"y":54.7},
{"x":29.5,"y":56.7},{"x":31,"y":55.5},{"x":30.3,"y":46.9},{"x":28.2,"y":27.3},{"x":25,"y":0.8},{"x":19.8,"y":-21.8},{"x":14.1,"y":-32.6},{"x":4.8,"y":-38.9},{"x":-6.5,"y":-41.4},{"x":-7.5,"y":-47.5},{"x":-10,"y":-54.7},{"x":-27.5,"y":-56.7},{"x":-29,"y":-55.5},{"x":-28.3,"y":-46.9},{"x":-26.4,"y":-27.3},{"x":-23.5,"y":-0.8},{"x":-18.7,"y":21.8},{"x":-13.5,"y":32.6},{"x":-4.9,"y":38.9},{"x":5.5,"y":41.4},{"x":7.5,"y":47.5},{"x":10,"y":55.1},
{"x":32.5,"y":57.1},{"x":34,"y":55.9},{"x":33.2,"y":47.2},{"x":31,"y":27.5},{"x":27.5,"y":1},{"x":21.9,"y":-21.7},{"x":15.8,"y":-32.5},{"x":5.7,"y":-38.9},{"x":-6.5,"y":-41.4},{"x":-7.5,"y":-47.5},{"x":-10,"y":-55.1},{"x":-30.5,"y":-57.1},{"x":-32,"y":-55.9},{"x":-31.3,"y":-47.2},{"x":-29.2,"y":-27.5},{"x":-26,"y":-1},{"x":-20.8,"y":21.7},{"x":-15.1,"y":32.5},{"x":-5.8,"y":38.9},{"x":5.5,"y":41.4},{"x":7.5,"y":47.5},{"x":10,"y":55.4},
{"x":35.5,"y":57.4},{"x":37,"y":56.2},{"x":36.1,"y":47.5},{"x":33.7,"y":27.8},{"x":30,"y":1.1},{"x":24,"y":-21.6},{"x":17.4,"y":-32.5},{"x":6.6,"y":-38.9},{"x":-6.5,"y":-41.4},{"x":-7.5,"y":-47.5},{"x":-10,"y":-55.4},{"x":-33,"y":-57.4},{"x":-34.5,"y":-56.2},{"x":-33.7,"y":-47.5},{"x":-31.5,"y":-27.8},{"x":-28.1,"y":-1.1},{"x":-22.5,"y":21.6},{"x":-16.5,"y":32.5},{"x":-6.5,"y":38.9},{"x":5.5,"y":41.4},{"x":7.5,"y":47.5},{"x":10,"y":55.6},
{"x":38,"y":57.6},{"x":39.5,"y":56.4},{"x":38.6,"y":47.7},{"x":36.1,"y":27.9},{"x":32.1,"y":1.2},{"x":25.7,"y":-21.6},{"x":18.8,"y":-32.5},{"x":7.3,"y":-38.9},{"x":-6.5,"y":-41.4},{"x":-7.5,"y":-47.5},{"x":-10,"y":-55.6},{"x":-35,"y":-57.6},{"x":-36.5,"y":-56.4},{"x":-35.7,"y":-47.7},{"x":-33.4,"y":-27.9},{"x":-29.8,"y":-1.2},{"x":-23.9,"y":21.6},{"x":-17.6,"y":32.5},{"x":-7.1,"y":38.9},{"x":5.5,"y":41.4}],
"d_c":[{"x":9,"y":42.4},{"x":-1.7,"y":-32.4},{"x":-3.5,"y":-40.2},{"x":-7,"y":-42.3},{"x":-9,"y":-42.8},{"x":1.7,"y":31.9},{"x":3.5,"y":39.7},{"x":7,"y":41.9},
{"x":12,"y":43.1},{"x":1.3,"y":-31.6},{"x":-0.5,"y":-39.4},{"x":-4,"y":-41.6},{"x":-12,"y":-43.5},{"x":-1.3,"y":31.2},{"x":0.5,"y":39},{"x":4,"y":41.1},
{"x":15,"y":43.8},{"x":4.3,"y":-30.9},{"x":2.5,"y":-38.7},{"x":-1,"y":-40.9},{"x":-15,"y":-44.2},{"x":-4.3,"y":30.4},{"x":-2.6,"y":38.2},{"x":1,"y":40.4},
{"x":18,"y":44.5},{"x":7.3,"y":-30.2},{"x":5.5,"y":-38},{"x":2,"y":-40.2},{"x":-18,"y":-45},{"x":-7.3,"y":29.7},{"x":-5.6,"y":37.5},{"x":-2.1,"y":39.7},
{"x":21,"y":45.3},{"x":10.3,"y":-29.5},{"x":8.5,"y":-37.3},{"x":5,"y":-39.4},{"x":-21,"y":-45.7},{"x":-10.3,"y":29},{"x":-8.6,"y":36.8},{"x":-5.1,"y":38.9},
{"x":24,"y":46},{"x":13.3,"y":-28.8},{"x":11.5,"y":-36.6},{"x":8,"y":-38.7},{"x":-24,"y":-46.4},{"x":-13.3,"y":28.2},{"x":-11.6,"y":36},{"x":-8.1,"y":38.2},
{"x":27,"y":46.7},{"x":16.3,"y":-28},{"x":14.5,"y":-35.8},{"x":11,"y":-38},{"x":-27,"y":-47.1},{"x":-16.3,"y":27.5},{"x":-14.6,"y":35.3},{"x":-11.1,"y":37.5},
{"x":30,"y":47.5},{"x":19.3,"y":-27.3},{"x":17.5,"y":-35.1},{"x":14,"y":-37.3},{"x":-30,"y":-47.8},{"x":-19.4,"y":26.8},{"x":-17.6,"y":34.6},{"x":-14.1,"y":36.7},
{"x":33,"y":48.2},{"x":22.3,"y":-26.6},{"x":20.5,"y":-34.4},{"x":17,"y":-36.6},{"x":-33,"y":-48.6},{"x":-22.4,"y":26.1},{"x":-20.6,"y":33.9},{"x":-17.1,"y":36},
{"x":36,"y":48.9},{"x":25.3,"y":-25.9},{"x":23.5,"y":-33.7},{"x":20,"y":-35.8},{"x":-36,"y":-49.3},{"x":-25.4,"y":25.3},{"x":-23.6,"y":33.1},{"x":-20.1,"y":35.3},
{"x":38.8,"y":49.6},{"x":28.1,"y":-25.2},{"x":26.3,"y":-33},{"x":22.8,"y":-35.2},{"x":-38.5,"y":-49.8},{"x":-27.9,"y":24.7},{"x":-26.1,"y":32.5},{"x":-22.6,"y":34.7},{"x":10,"y":42.6}]
},
"resolve":{"scale":{"color":"independent"}},
"spacing":21,
"vconcat":[
{"hconcat":[
{"width":444,"height":374,"title":{"text":"(a) C108-1"},
"layer":[
{"data":{"name":"a_t"},"transform":[{"window":[{"op":"row_number","as":"n"}]}],"mark":{"type":"line","strokeWidth":1.2,"clip":true},
"encoding":{"x":{"field":"x","type":"quantitative","scale":{"domain":[-70,70],"nice":false,"zero":false},"axis":{"values":[-70,-35,0,35,70],"title":"Δ /mm"}},
"y":{"field":"y","type":"quantitative","scale":{"domain":[-60,60],"nice":false,"zero":false},"axis":{"values":[-60,-30,0,30,60],"title":"P/kN"}},
"order":{"field":"n"},
"color":{"datum":"试验","scale":{"domain":["试验","计算"],"range":["#000000","#0000ff"]},"legend":{"legendX":28.5,"legendY":16,"direction":"vertical"}}}},
{"data":{"name":"a_c"},"transform":[{"window":[{"op":"row_number","as":"n"}]}],"mark":{"type":"line","strokeWidth":2.3,"clip":true},
"encoding":{"x":{"field":"x","type":"quantitative"},"y":{"field":"y","type":"quantitative"},"order":{"field":"n"},"color":{"datum":"计算"}}}
]},
{"width":444,"height":374,"title":{"text":"(b) C108-2"},
"layer":[
{"data":{"name":"b_t"},"transform":[{"window":[{"op":"row_number","as":"n"}]}],"mark":{"type":"line","strokeWidth":1.2,"clip":true},
"encoding":{"x":{"field":"x","type":"quantitative","scale":{"domain":[-70,70],"nice":false,"zero":false},"axis":{"values":[-70,-35,0,35,70],"title":"Δ /mm"}},
"y":{"field":"y","type":"quantitative","scale":{"domain":[-70,70],"nice":false,"zero":false},"axis":{"values":[-70,-35,0,35,70],"title":"P/kN"}},
"order":{"field":"n"},
"color":{"datum":"试验","scale":{"domain":["试验","计算"],"range":["#000000","#0000ff"]},"legend":{"legendX":47,"legendY":26,"direction":"horizontal","columnPadding":61}}}},
{"data":{"name":"b_c"},"transform":[{"window":[{"op":"row_number","as":"n"}]}],"mark":{"type":"line","strokeWidth":2.3,"clip":true},
"encoding":{"x":{"field":"x","type":"quantitative"},"y":{"field":"y","type":"quantitative"},"order":{"field":"n"},"color":{"datum":"计算"}}}
]}
],"spacing":100,"resolve":{"scale":{"color":"independent"}}},
{"hconcat":[
{"width":444,"height":375,"title":{"text":"(c) S100-1"},
"layer":[
{"data":{"name":"c_t"},"transform":[{"window":[{"op":"row_number","as":"n"}]}],"mark":{"type":"line","strokeWidth":1.2,"clip":true},
"encoding":{"x":{"field":"x","type":"quantitative","scale":{"domain":[-50,50],"nice":false,"zero":false},"axis":{"values":[-50,-25,0,25,50],"title":"Δ /mm"}},
"y":{"field":"y","type":"quantitative","scale":{"domain":[-50,50],"nice":false,"zero":false},"axis":{"values":[-50,-25,0,25,50],"title":"P/kN"}},
"order":{"field":"n"},
"color":{"datum":"试验","scale":{"domain":["试验","计算"],"range":["#000000","#0000ff"]},"legend":{"legendX":26,"legendY":17,"direction":"vertical"}}}},
{"data":{"name":"c_c"},"transform":[{"window":[{"op":"row_number","as":"n"}]}],"mark":{"type":"line","strokeWidth":2.3,"clip":true},
"encoding":{"x":{"field":"x","type":"quantitative"},"y":{"field":"y","type":"quantitative"},"order":{"field":"n"},"color":{"datum":"计算"}}}
]},
{"width":444,"height":375,"title":{"text":"(d) S120-1"},
"layer":[
{"data":{"name":"d_t"},"transform":[{"window":[{"op":"row_number","as":"n"}]}],"mark":{"type":"line","strokeWidth":1.2,"clip":true},
"encoding":{"x":{"field":"x","type":"quantitative","scale":{"domain":[-40,40],"nice":false,"zero":false},"axis":{"values":[-40,-20,0,20,40],"title":"Δ /mm"}},
"y":{"field":"y","type":"quantitative","scale":{"domain":[-70,70],"nice":false,"zero":false},"axis":{"values":[-70,-35,0,35,70],"title":"P/kN"}},
"order":{"field":"n"},
"color":{"datum":"试验","scale":{"domain":["试验","计算"],"range":["#000000","#0000ff"]},"legend":{"legendX":30,"legendY":17,"direction":"vertical"}}}},
{"data":{"name":"d_c"},"transform":[{"window":[{"op":"row_number","as":"n"}]}],"mark":{"type":"line","strokeWidth":2.3,"clip":true},
"encoding":{"x":{"field":"x","type":"quantitative"},"y":{"field":"y","type":"quantitative"},"order":{"field":"n"},"color":{"datum":"计算"}}}
]}
],"spacing":100,"resolve":{"scale":{"color":"independent"}}}
]
}
